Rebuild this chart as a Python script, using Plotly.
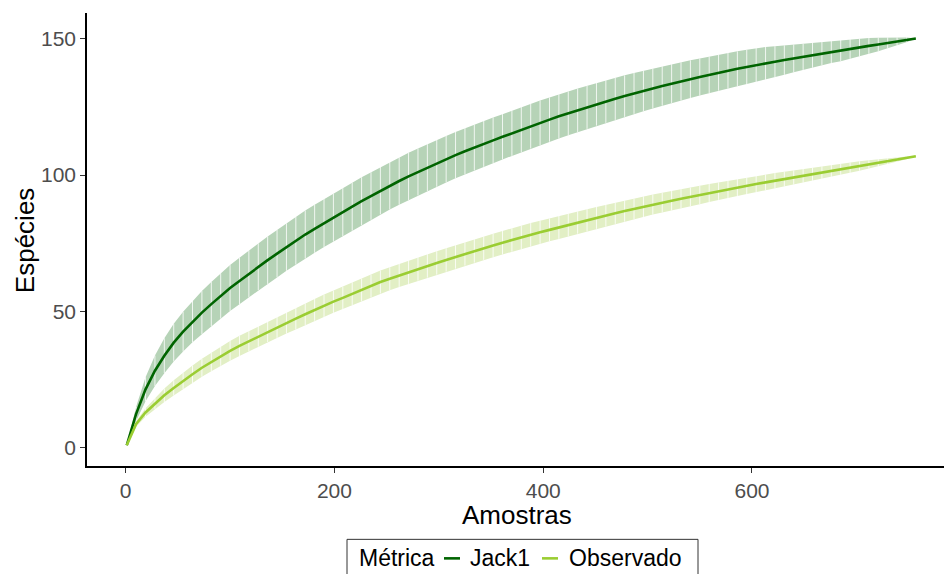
import plotly.graph_objects as go

# ---- data ----
amostras = [1, 10, 19, 28, 37, 46, 55, 64, 73, 82, 91, 100, 109, 118, 127, 136, 145, 154, 163, 172,
            181, 190, 199, 208, 217, 226, 235, 244, 253, 262, 271, 280, 289, 298, 307, 316, 325, 334, 343, 352,
            361, 370, 379, 388, 397, 406, 415, 424, 433, 442, 451, 460, 469, 478, 487, 496, 505, 514, 523, 532,
            541, 550, 559, 568, 577, 586, 595, 604, 613, 622, 631, 640, 649, 658, 667, 676, 685, 694, 703, 712,
            721, 730, 739, 748, 757]

jack1_mean = [1.0, 12.5, 21.5, 28.3, 33.8, 38.6, 42.6, 46.3, 49.6, 52.7, 55.7, 58.6, 61.2, 63.8, 66.4, 68.8, 71.2, 73.6, 76.0, 78.2,
              80.3, 82.4, 84.4, 86.4, 88.4, 90.4, 92.3, 94.3, 96.1, 97.8, 99.5, 101.1, 102.7, 104.3, 105.8, 107.3, 108.7, 110.1, 111.4, 112.7,
              114.0, 115.3, 116.6, 117.9, 119.1, 120.3, 121.5, 122.6, 123.7, 124.8, 125.9, 126.9, 127.9, 128.9, 129.9, 130.8, 131.7, 132.6, 133.5, 134.3,
              135.1, 135.9, 136.7, 137.5, 138.2, 138.9, 139.6, 140.3, 140.9, 141.5, 142.1, 142.7, 143.3, 143.9, 144.5, 145.1, 145.6, 146.2, 146.7, 147.3,
              147.8, 148.4, 148.9, 149.5, 150.0]

jack1_sd = [0.0, 2.6, 4.4, 5.6, 6.4, 6.9, 7.3, 7.6, 7.9, 8.1, 8.3, 8.4, 8.5, 8.6, 8.6, 8.7, 8.7, 8.7, 8.8, 8.8,
            8.8, 8.8, 8.8, 8.8, 8.8, 8.8, 8.7, 8.7, 8.7, 8.7, 8.7, 8.6, 8.6, 8.6, 8.5, 8.5, 8.5, 8.4, 8.4, 8.4,
            8.3, 8.3, 8.3, 8.2, 8.2, 8.1, 8.1, 8.0, 8.0, 7.9, 7.8, 7.8, 7.7, 7.6, 7.5, 7.4, 7.3, 7.2, 7.1, 7.0,
            6.9, 6.8, 6.7, 6.6, 6.5, 6.4, 6.3, 6.2, 6.0, 5.7, 5.4, 5.1, 4.8, 4.6, 4.3, 4.1, 3.9, 3.6, 3.3, 2.9,
            2.5, 2.0, 1.5, 0.9, 0.0]

obs_mean = [1.0, 8.8, 13.0, 16.3, 19.3, 22.0, 24.6, 27.0, 29.4, 31.5, 33.6, 35.6, 37.4, 39.1, 40.9, 42.6, 44.2, 45.8, 47.4, 49.0,
            50.6, 52.1, 53.6, 55.0, 56.5, 57.9, 59.3, 60.8, 62.0, 63.2, 64.4, 65.6, 66.7, 67.8, 68.9, 70.0, 71.1, 72.2, 73.2, 74.2,
            75.2, 76.2, 77.2, 78.1, 79.0, 79.9, 80.8, 81.7, 82.6, 83.4, 84.3, 85.1, 86.0, 86.8, 87.6, 88.4, 89.2, 89.9, 90.6, 91.3,
            92.0, 92.7, 93.4, 94.1, 94.7, 95.4, 96.0, 96.7, 97.3, 97.9, 98.5, 99.1, 99.7, 100.3, 100.9, 101.5, 102.1, 102.7, 103.3, 103.9,
            104.5, 105.1, 105.7, 106.3, 106.9]

obs_sd = [0.0, 1.0, 1.6, 2.1, 2.5, 2.8, 3.0, 3.2, 3.3, 3.4, 3.5, 3.6, 3.7, 3.7, 3.8, 3.8, 3.9, 3.9, 4.0, 4.0,
          4.0, 4.1, 4.1, 4.1, 4.2, 4.2, 4.2, 4.2, 4.2, 4.2, 4.3, 4.3, 4.3, 4.3, 4.3, 4.3, 4.3, 4.3, 4.3, 4.3,
          4.3, 4.3, 4.3, 4.3, 4.2, 4.2, 4.2, 4.2, 4.1, 4.1, 4.0, 4.0, 3.9, 3.9, 3.8, 3.8, 3.7, 3.6, 3.6, 3.5,
          3.4, 3.4, 3.3, 3.2, 3.2, 3.1, 3.0, 3.0, 2.9, 2.8, 2.7, 2.6, 2.5, 2.4, 2.3, 2.2, 2.0, 1.9, 1.7, 1.5,
          1.3, 1.0, 0.8, 0.5, 0.0]

x_ticks = [0, 200, 400, 600]
y_ticks = [0, 50, 100, 150]
series_names = ["Jack1", "Observado"]
legend_title = "Métrica"

line_colors = {"Jack1": "#006400", "Observado": "#9ACD32"}
band_colors = {"Jack1": "#B6D3B7", "Observado": "#E2EFC5"}
data = {"Jack1": (jack1_mean, jack1_sd), "Observado": (obs_mean, obs_sd)}

FONT = "Arial, 'Liberation Sans', sans-serif"

# pixel geometry helpers for paper-positioned decorations
W, H = 944, 574
ML, MR, MT, MB = 87, 0, 13, 108.3
PW, PH = W - ML - MR, H - MT - MB


def px(xp):
    return (xp - ML) / PW


def py(yp):
    return (H - MB - yp) / PH


fig = go.Figure()

# error bands: continuous ribbon + thin white separators between error bars
for name in series_names:
    mean, sd = data[name]
    lower = [m - s for m, s in zip(mean, sd)]
    upper = [m + s for m, s in zip(mean, sd)]
    fig.add_trace(go.Scatter(x=amostras, y=lower, mode="lines", line=dict(width=0, color=band_colors[name]),
                             showlegend=False, hoverinfo="skip"))
    fig.add_trace(go.Scatter(x=amostras, y=upper, mode="lines", line=dict(width=0, color=band_colors[name]),
                             fill="tonexty", fillcolor=band_colors[name], showlegend=False, hoverinfo="skip"))

for name in series_names:
    mean, sd = data[name]
    sx, sy = [], []
    for xv, m, s in zip(amostras, mean, sd):
        sx += [xv, xv, None]
        sy += [m - s, m + s, None]
    fig.add_trace(go.Scatter(x=sx, y=sy, mode="lines", line=dict(width=1, color="rgba(255,255,255,0.8)"),
                             showlegend=False, hoverinfo="skip", connectgaps=False))

for name in series_names:
    mean, sd = data[name]
    fig.add_trace(go.Scatter(x=amostras, y=mean, mode="lines", name=name,
                             line=dict(color=line_colors[name], width=2.6), showlegend=False))

# custom legend (ggplot-like, bottom)
shapes = [
    dict(type="rect", xref="paper", yref="paper", x0=px(347), x1=px(698), y0=py(539), y1=py(600),
         line=dict(color="#333333", width=1), fillcolor="rgba(0,0,0,0)", layer="above"),
]
annotations = [
    dict(text=legend_title, xref="paper", yref="paper", x=px(357), y=py(558), xanchor="left", yanchor="middle",
         showarrow=False, font=dict(size=23, color="black")),
]
legend_layout = [("Jack1", 444, 468), ("Observado", 542, 567)]
for name, kx, tx in legend_layout:
    shapes.append(dict(type="line", xref="paper", yref="paper", x0=px(kx), x1=px(kx + 16), y0=py(558), y1=py(558),
                       line=dict(color=line_colors[name], width=2.6)))
    annotations.append(dict(text=name, xref="paper", yref="paper", x=px(tx), y=py(558), xanchor="left",
                            yanchor="middle", showarrow=False, font=dict(size=23, color="black")))

annotations += [
    dict(text="Amostras", xref="paper", yref="paper", x=px(517), y=py(515),
         xanchor="center", yanchor="middle", showarrow=False, font=dict(size=26, color="black")),
    dict(text="Espécies", xref="paper", yref="paper", x=px(25), y=py(240),
         xanchor="center", yanchor="middle", textangle=-90, showarrow=False,
         font=dict(size=26, color="black")),
]

fig.update_layout(
    width=W, height=H,
    margin=dict(l=ML, r=MR, t=MT, b=MB, autoexpand=False),
    paper_bgcolor="white", plot_bgcolor="white",
    font=dict(family=FONT, size=20, color="black"),
    showlegend=False,
    xaxis=dict(
        range=[-37.08, 783.96],
        tickvals=x_ticks,
        showgrid=False, zeroline=False,
        showline=True, linecolor="black", linewidth=1.5,
        ticks="outside", ticklen=5, tickcolor="#333333", tickwidth=1.2,
        tickfont=dict(size=21, color="#4D4D4D"),
    ),
    yaxis=dict(
        range=[-6.6, 159.35],
        tickvals=y_ticks,
        showgrid=False, zeroline=False,
        showline=True, linecolor="black", linewidth=1.5,
        ticks="outside", ticklen=5, tickcolor="#333333", tickwidth=1.2,
        tickfont=dict(size=21, color="#4D4D4D"),
    ),
    shapes=shapes,
    annotations=annotations,
)

fig.write_html("out.html")
